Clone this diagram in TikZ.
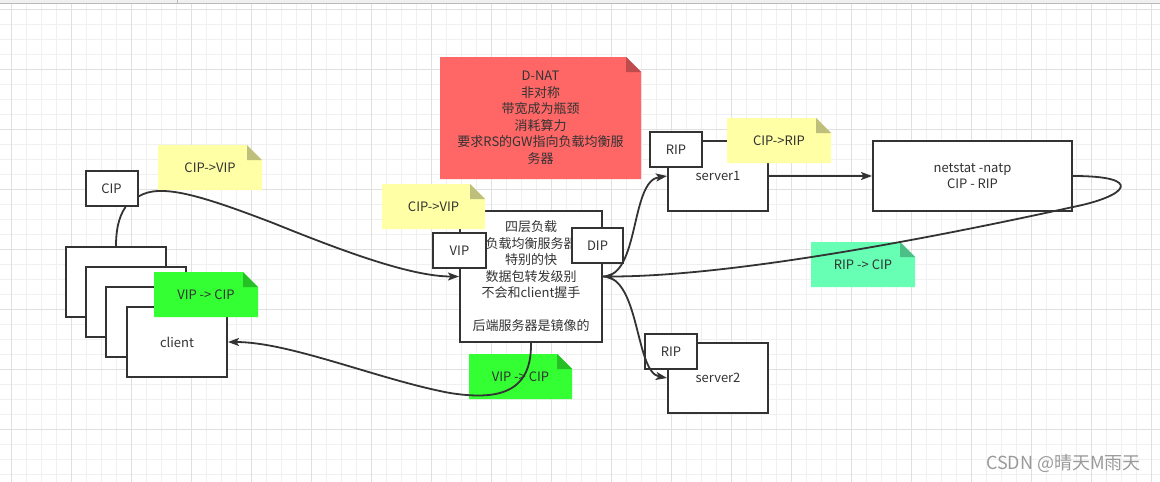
\documentclass[tikz,border=0pt]{standalone}
\usepackage{fontspec}
\setmainfont{Noto Sans CJK SC}
\usepackage{xcolor}
\usetikzlibrary{arrows.meta}

\definecolor{ink}{HTML}{333333}
\definecolor{gridminor}{HTML}{F0F0F0}
\definecolor{gridmajor}{HTML}{E0E0E0}
\definecolor{noteyellow}{HTML}{FFFFA6}
\definecolor{notered}{HTML}{FF6666}
\definecolor{notegreen}{HTML}{33FF33}
\definecolor{noteteal}{HTML}{66FFB3}
\definecolor{wm}{HTML}{9A9A9A}

\tikzset{
  box/.style={draw=ink, line width=2pt, fill=white, minimum width=100pt,
    minimum height=70pt, inner sep=0pt, text=ink, align=center},
  tag/.style={box, minimum width=52pt, minimum height=35pt},
  sticky/.style={minimum width=104pt, minimum height=45pt, inner sep=0pt,
    text=ink, align=center,
    path picture={
      \fill[#1] (path picture bounding box.south west)
        |- ([xshift=-15pt]path picture bounding box.north east)
        -- ([yshift=-15pt]path picture bounding box.north east)
        -- (path picture bounding box.south east) -- cycle;
      \fill[#1!75!black] ([xshift=-15pt]path picture bounding box.north east)
        -- ++(0pt,-15pt) -- ([yshift=-15pt]path picture bounding box.north east) -- cycle;
    }},
  link/.style={draw=ink, line width=1.8pt},
  tip/.style={-{Stealth[length=11pt,width=8pt,inset=2.5pt]}}
}

\begin{document}
\begin{tikzpicture}[x=1pt,y=-1pt,font=\fontsize{13pt}{16.5pt}\selectfont]
  \useasboundingbox (0,0) rectangle (1160,482);

  % grid
  \foreach \gx in {11.7,26.7,...,1160}
    \draw[gridminor, line width=1pt] (\gx,3) -- (\gx,482);
  \foreach \gy in {9.3,24.3,...,482}
    \draw[gridminor, line width=1pt] (0,\gy) -- (1160,\gy);
  \foreach \gx in {11.7,71.7,...,1160}
    \draw[gridmajor, line width=1pt] (\gx,3) -- (\gx,482);
  \foreach \gy in {9.3,69.3,...,482}
    \draw[gridmajor, line width=1pt] (0,\gy) -- (1160,\gy);
  \fill[gray!12] (0,0) rectangle (1160,3);
  \draw[gray!55, line width=1pt] (0,3.3) -- (1160,3.3) (177,0) -- (177,3.3);

  % clients
  \node[box] (c1) at (116,282) {};
  \node[box] (c2) at (136,302) {};
  \node[box] (c3) at (156,322) {};
  \node[box] (client) at (177,342) {client};

  % load balancer and servers
  \node[box, minimum width=142pt, minimum height=131pt] (lb) at (531,276.5)
    {四层负载\\负载均衡服务器\\特别的快\\数据包转发级别\\不会和client握手\\[16.5pt]后端服务器是镜像的};
  \node[box] (server1) at (718,176) {server1};
  \node[box] (server2) at (718,378) {server2};
  \node[box, minimum width=199pt] (netstat) at (972.5,176) {netstat -natp\\CIP - RIP};

  \node[tag] (cip) at (111.5,188.5) {CIP};
  \node[tag, minimum width=53pt] (vip) at (459.5,250.5) {VIP};
  \node[tag, minimum width=51pt] (dip) at (597.5,245.5) {DIP};
  \node[tag] (rip1) at (676,149.5) {RIP};
  \node[tag] (rip2) at (671,351.5) {RIP};

  % notes
  \node[sticky=notered, minimum width=201pt, minimum height=122pt] (dnat) at (540.5,118)
    {D-NAT\\非对称\\带宽成为瓶颈\\消耗算力\\要求RS的GW指向负载均衡服\\务器};
  \node[sticky=noteyellow] (req1) at (210,167.5) {CIP->VIP};
  \node[sticky=noteyellow, minimum width=103pt] (req2) at (433.5,206.5) {CIP->VIP};
  \node[sticky=noteyellow] (req3) at (779,140.5) {CIP->RIP};
  \node[sticky=noteteal] (resp1) at (863,264.5) {RIP -> CIP};
  \node[sticky=notegreen] (resp2) at (206,294.5) {VIP -> CIP};
  \node[sticky=notegreen, minimum width=103pt] (resp3) at (520.5,376.5) {VIP -> CIP};

  % connectors
  \draw[link] ([xshift=14pt]cip.south) .. controls (118,218) and (116,232) .. (c1.north);
  \draw[link, tip] ([yshift=-8pt]cip.east) .. controls (160,183) and (200,195) .. (273,223)
    .. controls (340,250) and (410,276.5) .. (lb.west);
  \draw[link, tip] (lb.east) .. controls (640,276.5) and (630,181) .. (server1.west);
  \draw[link, tip] (lb.east) .. controls (640,276.5) and (635,372) .. (server2.west);
  \draw[link, tip] (server1.east) -- (netstat.west);
  \draw[link, tip] (netstat.east) .. controls (1145,176) and (1128,196) .. (1073,207)
    .. controls (900,245) and (720,276.5) .. (lb.east);
  \draw[link, tip] (lb.south) .. controls (532,395) and (495,400) .. (450,393)
    .. controls (380,380) and (290,342) .. (client.east);

  \node[text=wm, font=\fontsize{18pt}{18pt}\selectfont] (mark) at (1063.5,463) {CSDN @晴天M雨天};
\end{tikzpicture}
\end{document}
